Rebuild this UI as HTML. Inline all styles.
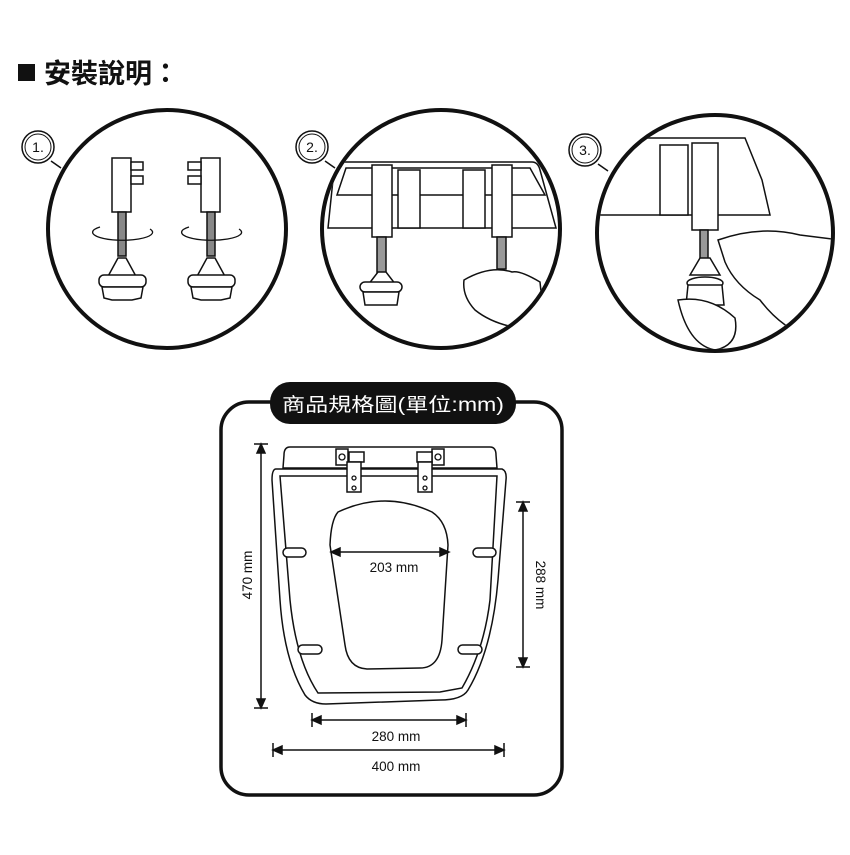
<!DOCTYPE html>
<html><head><meta charset="utf-8"><style>
body{margin:0;background:#fff;width:850px;height:850px;overflow:hidden}
</style></head><body>
<svg width="850" height="850" viewBox="0 0 850 850" xmlns="http://www.w3.org/2000/svg" font-family="Liberation Sans, Noto Sans CJK TC, sans-serif">
<defs>
<clipPath id="c2"><circle cx="441" cy="229" r="117"/></clipPath>
<clipPath id="c3"><circle cx="715" cy="233" r="116"/></clipPath>
</defs>
<rect x="18" y="64" width="17" height="17" fill="#111"/>
<text x="44" y="83" font-size="27" font-weight="bold" fill="#111" font-family="Liberation Sans, Noto Sans CJK TC, sans-serif">安裝說明：</text>

<!-- step 1 bolts -->
<g fill="#fff" stroke="#111" stroke-width="1.5">
<rect x="112" y="158" width="19" height="54"/><rect x="131" y="162" width="12" height="8"/><rect x="131" y="176" width="12" height="8"/>
<rect x="118" y="212" width="8" height="44" fill="#888"/>
<path d="M106 280 L118 258 L126 258 L138 280 Z"/>
<rect x="99" y="275" width="47" height="12" rx="5"/>
<path d="M102 287 L143 287 L141 298 L132 300 L112 300 L104 298 Z"/>
<rect x="201" y="158" width="19" height="54"/><rect x="188" y="162" width="13" height="8"/><rect x="188" y="176" width="13" height="8"/>
<rect x="207" y="212" width="8" height="44" fill="#888"/>
<path d="M195 280 L207 258 L215 258 L227 280 Z"/>
<rect x="188" y="275" width="47" height="12" rx="5"/>
<path d="M191 287 L232 287 L230 298 L221 300 L201 300 L193 298 Z"/>
</g>
<g fill="none" stroke="#111" stroke-width="1.3">
<path d="M100 227 A30 8 0 1 0 150 229"/><path d="M189 227 A30 8 0 1 0 239 229"/>
</g>

<!-- step 2 -->
<g clip-path="url(#c2)" fill="#fff" stroke="#111" stroke-width="1.5">
<path d="M340 162 L532 162 Q538 162 540 170 L556 228 L328 228 L334 170 Q335 162 340 162 Z"/>
<path d="M346 168 L530 168 L545 195 L337 195 Z"/>
<rect x="372" y="165" width="20" height="72"/><rect x="492" y="165" width="20" height="72"/>
<rect x="398" y="170" width="22" height="58"/><rect x="463" y="170" width="22" height="58"/>
<rect x="377" y="237" width="9" height="45" fill="#999"/><rect x="497" y="237" width="9" height="32" fill="#999"/>
<path d="M368 285 L378 272 L386 272 L396 285 Z"/>
<rect x="360" y="282" width="42" height="10" rx="5"/>
<path d="M363 292 L399 292 L397 305 L365 305 Z"/>
<path d="M464 280 Q490 265 512 272 Q520 270 540 282 L545 330 Q500 330 475 310 Q462 296 464 280 Z"/>
</g>
<!-- step 3 -->
<g clip-path="url(#c3)" fill="#fff" stroke="#111" stroke-width="1.5">
<path d="M608 138 L745 138 L762 180 L770 215 L595 215 Z"/>
<rect x="660" y="145" width="28" height="70"/><rect x="692" y="143" width="26" height="87"/>
<rect x="700" y="230" width="8" height="30" fill="#999"/>
<path d="M690 275 L700 258 L710 258 L720 275 Z"/>
<ellipse cx="705" cy="283" rx="18" ry="6"/>
<path d="M688 285 L722 285 L724 305 L686 305 Z"/>
<path d="M718 240 Q760 225 800 235 L840 240 L840 345 Q790 340 760 300 Q735 285 725 262 Z"/>
<path d="M678 300 Q710 295 735 318 Q740 345 715 350 Q688 345 678 300 Z"/>
</g>

<g fill="none" stroke="#111">
<circle cx="167" cy="229" r="119" stroke-width="4"/>
<line x1="51" y1="161" x2="61" y2="168" stroke-width="1.5"/>
<circle cx="38" cy="147" r="16" stroke-width="1.5" fill="#fff"/><circle cx="38" cy="147" r="13" stroke-width="1"/>
<circle cx="441" cy="229" r="119" stroke-width="4"/>
<line x1="325" y1="161" x2="335" y2="168" stroke-width="1.5"/>
<circle cx="312" cy="147" r="16" stroke-width="1.5" fill="#fff"/><circle cx="312" cy="147" r="13" stroke-width="1"/>
<circle cx="715" cy="233" r="118" stroke-width="4"/>
<line x1="598" y1="164" x2="608" y2="171" stroke-width="1.5"/>
<circle cx="585" cy="150" r="16" stroke-width="1.5" fill="#fff"/><circle cx="585" cy="150" r="13" stroke-width="1"/>
</g>
<g font-size="14" fill="#111" text-anchor="middle">
<text x="38" y="152">1.</text><text x="312" y="152">2.</text><text x="585" y="155">3.</text>
</g>

<!-- spec box -->
<rect x="221" y="402" width="341" height="393" rx="28" fill="none" stroke="#111" stroke-width="3.5"/>
<rect x="270" y="382" width="246" height="42" rx="20" fill="#111"/>
<text x="393" y="411" font-size="19" fill="#fff" text-anchor="middle" textLength="222" lengthAdjust="spacingAndGlyphs">商品規格圖(單位:mm)</text>

<g fill="#fff" stroke="#111" stroke-width="1.5">
<path d="M290 447 L490 447 Q496 447 496 455 L497 468 L283 468 L284 455 Q284 447 290 447 Z"/>
<path d="M276 469 L502 469 Q507 471 506 480 L498 580 Q492 650 468 690 Q462 700 440 700 L326 704 Q312 704 305 695 Q284 660 280 600 L272 480 Q272 469 276 469 Z"/>
<path d="M280 476 L497 476 L490 600 Q484 650 462 688 L440 692 L318 693 Q296 660 290 600 Z"/>
<path d="M338 512 Q385 490 432 512 Q447 522 448 545 L442 640 Q440 668 420 668 L367 669 Q348 668 345 645 L330 545 Q331 520 338 512 Z"/>
<rect x="336" y="449" width="12" height="16"/><rect x="432" y="449" width="12" height="16"/>
<rect x="349" y="452" width="15" height="10"/><rect x="417" y="452" width="15" height="10"/>
<rect x="347" y="462" width="14" height="30"/><rect x="418" y="462" width="14" height="30"/>
<rect x="283" y="548" width="23" height="9" rx="4.5"/><rect x="473" y="548" width="23" height="9" rx="4.5"/>
<rect x="298" y="645" width="24" height="9" rx="4.5"/><rect x="458" y="645" width="24" height="9" rx="4.5"/>
</g>
<g fill="none" stroke="#111" stroke-width="1.3">
<circle cx="354" cy="478" r="2"/><circle cx="354" cy="488" r="2"/><circle cx="425" cy="478" r="2"/><circle cx="425" cy="488" r="2"/>
<circle cx="342" cy="457" r="3"/><circle cx="438" cy="457" r="3"/>
</g>
<g stroke="#111" stroke-width="1.5" fill="#111">
<line x1="254" y1="444" x2="268" y2="444"/><line x1="254" y1="708" x2="268" y2="708"/>
<line x1="261" y1="446" x2="261" y2="706"/>
<path d="M261 444 l-4 9 h8z M261 708 l-4 -9 h8z"/>
<line x1="516" y1="502" x2="530" y2="502"/><line x1="516" y1="667" x2="530" y2="667"/>
<line x1="523" y1="504" x2="523" y2="665"/>
<path d="M523 502 l-4 9 h8z M523 667 l-4 -9 h8z"/>
<line x1="333" y1="552" x2="447" y2="552"/>
<path d="M331 552 l9 -4 v8z M449 552 l-9 -4 v8z"/>
<line x1="312" y1="713" x2="312" y2="727"/><line x1="466" y1="713" x2="466" y2="727"/>
<line x1="314" y1="720" x2="464" y2="720"/>
<path d="M312 720 l9 -4 v8z M466 720 l-9 -4 v8z"/>
<line x1="273" y1="743" x2="273" y2="757"/><line x1="504" y1="743" x2="504" y2="757"/>
<line x1="275" y1="750" x2="502" y2="750"/>
<path d="M273 750 l9 -4 v8z M504 750 l-9 -4 v8z"/>
</g>
<g font-size="13.5" fill="#111" text-anchor="middle">
<text x="394" y="572">203 mm</text>
<text x="396" y="741">280 mm</text>
<text x="396" y="771">400 mm</text>
<text transform="translate(252 575) rotate(-90)">470 mm</text>
<text transform="translate(536 585) rotate(90)">288 mm</text>
</g>
</svg>
</body></html>
